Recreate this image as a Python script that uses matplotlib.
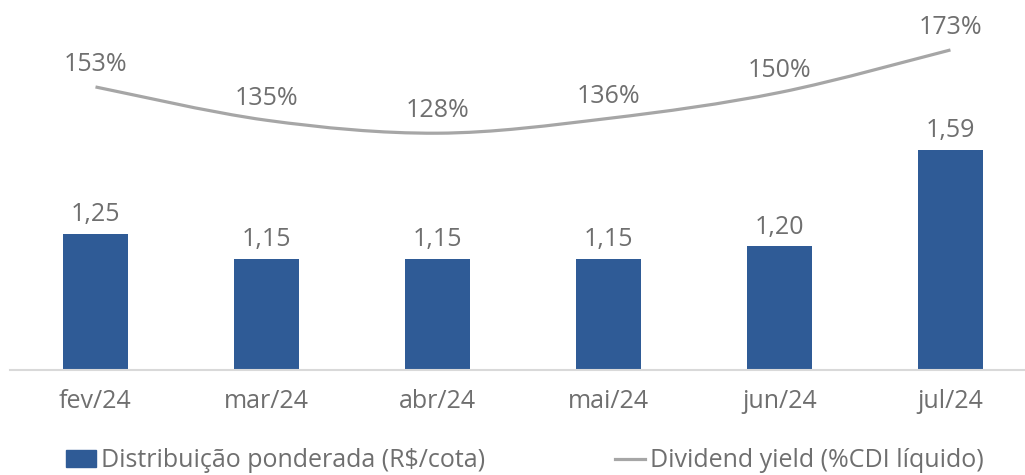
import numpy as np
import matplotlib
matplotlib.use("Agg")
import matplotlib.pyplot as plt
from matplotlib.path import Path
from matplotlib.patches import PathPatch
from matplotlib.lines import Line2D
from matplotlib.patches import Patch

plt.rcParams['font.family'] = ['Open Sans', 'DejaVu Sans']

months = ['fev/24', 'mar/24', 'abr/24', 'mai/24', 'jun/24', 'jul/24']
distribuicao = [1.25, 1.15, 1.15, 1.15, 1.20, 1.59]
dividend_yield = [153, 135, 128, 136, 150, 173]

C_BAR = '#2f5b96'
C_LINE = '#a6a6a6'
C_TEXT = '#6f6f6f'
FS = 18

fig = plt.figure(figsize=(10.25, 4.75), dpi=100)
ax = fig.add_axes([10 / 1025, 105 / 475, 1015 / 1025, 370 / 475])
ax2 = ax.twinx()

x = np.arange(len(months))
ax.bar(x, distribuicao, width=0.375, color=C_BAR, zorder=2)
for xi, v in zip(x, distribuicao):
    ax.annotate(f'{v:.2f}'.replace('.', ','), (xi, v), xytext=(0, 5),
                textcoords='offset points', ha='center', va='bottom',
                fontsize=FS, color=C_TEXT)

ax.set_xlim(-0.5, 5.436)
ax.set_ylim(0.7, 0.7 + 370 / 247)
ax.set_xticks(x)
ax.set_xticklabels(months, fontsize=FS, color=C_TEXT)
ax.tick_params(axis='x', length=0, pad=14)
ax.set_yticks([])
for s in ['top', 'right', 'left']:
    ax.spines[s].set_visible(False)
ax.spines['bottom'].set_color('#d9d9d9')
ax.spines['bottom'].set_linewidth(1.5)

# smoothed line (Catmull-Rom drawn as cubic Bezier segments)
ax2.set_ylim(0, 200)
pts = np.column_stack([x, dividend_yield]).astype(float)
verts = [pts[0]]
codes = [Path.MOVETO]
n = len(pts)
for i in range(n - 1):
    p0 = pts[max(i - 1, 0)]
    p1 = pts[i]
    p2 = pts[i + 1]
    p3 = pts[min(i + 2, n - 1)]
    c1 = p1 + (p2 - p0) / 6
    c2 = p2 - (p3 - p1) / 6
    verts += [c1, c2, p2]
    codes += [Path.CURVE4] * 3
ax2.add_patch(PathPatch(Path(verts, codes), facecolor='none',
                        edgecolor=C_LINE, lw=2.3, zorder=3))
for xi, v in zip(x, dividend_yield):
    ax2.annotate(f'{v}%', (xi, v), xytext=(0, 7),
                 textcoords='offset points', ha='center', va='bottom',
                 fontsize=FS, color=C_TEXT)
ax2.set_yticks([])
for s in ['top', 'right', 'left', 'bottom']:
    ax2.spines[s].set_visible(False)

handles = [Patch(color=C_BAR), Line2D([], [], color=C_LINE, lw=2.3)]
labels = ['Distribuição ponderada (R$/cota)', 'Dividend yield (%CDI líquido)']
leg = fig.legend(handles, labels, loc='center', bbox_to_anchor=(0.512, 0.03),
                 ncol=2, frameon=False, fontsize=FS, columnspacing=5.2,
                 handlelength=1.2, handletextpad=0.2)
for t in leg.get_texts():
    t.set_color(C_TEXT)

fig.savefig('out.png', dpi=100)
